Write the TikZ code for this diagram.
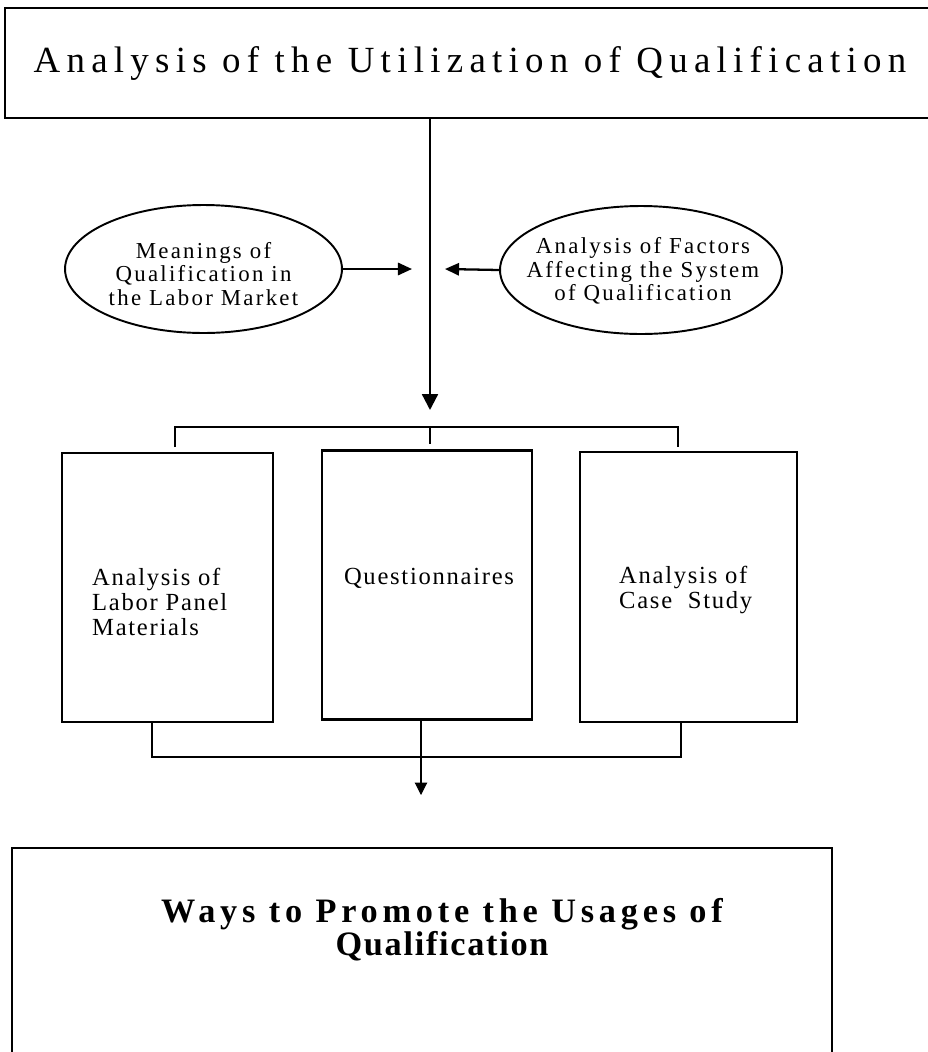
\documentclass[tikz,border=0pt]{standalone}
\usepackage{fontspec}
\setmainfont{Liberation Serif}
\newfontfamily\titlefont[LetterSpace=17]{Liberation Serif}
\newfontfamily\bubblefont[LetterSpace=10]{Liberation Serif}
\newfontfamily\panelfont[LetterSpace=7]{Liberation Serif}
\newfontfamily\resultfont[LetterSpace=14]{Liberation Serif}
\newfontfamily\resultfonttight[LetterSpace=5]{Liberation Serif}
\usetikzlibrary{shapes.geometric,arrows.meta}

\begin{document}
\begin{tikzpicture}[x=0.02cm,y=-0.02cm,
	frame/.style={draw,line width=0.8pt,minimum width=18.6cm,minimum height=2.2cm},
	bubble/.style={draw,ellipse,line width=1.1pt,minimum width=5.54cm,minimum height=2.56cm},
	bubbletext/.style={align=center,font=\bubblefont\fontsize{13}{13.3}\selectfont},
	panel/.style={draw,line width=1.3pt,minimum width=4.22cm,minimum height=5.38cm},
	paneltext/.style={align=left,font=\panelfont\fontsize{14}{14.3}\selectfont},
	trunk/.style={line width=1.3pt},
	twig/.style={line width=0.6pt},
	tip/.style={-{Triangle[length=9pt,width=9pt]}},
	sidetip/.style={-{Triangle[length=8pt,width=7pt]}},
	smalltip/.style={-{Triangle[length=7pt,width=7pt]}}]
	\clip (0,0) rectangle (928,1052);
	%\draw [help lines,step=50] (0,0) grid (928,1052);
	\node[frame] (title) at (470,63) {\titlefont\fontsize{21}{24}\selectfont Analysis of the Utilization of Qualification};
	% side inputs
	\node[bubble] (meaning) at (203.5,269) {};
	\node[bubbletext] (meaningtext) at (203.5,274) {Meanings of\\Qualification in\\the Labor Market};
	\node[bubble,minimum width=5.64cm] (factor) at (641,270) {};
	\node[bubbletext] (factortext) at (643,271) {Analysis of Factors\\Affecting the System\\of Qualification};
	\coordinate (inL) at (412,269);
	\coordinate (inR) at (445,269);
	\coordinate (hub) at (430,410);
	\coordinate (fork) at (430,427);
	\draw[trunk,tip] (title.south -| hub) -- (hub);
	\draw[trunk,sidetip] (meaning.east) -- (inL);
	\draw[trunk,sidetip] (factor.west) -- (inR);
	% three methods
	\node[panel] (labor) at (167.5,587.5) {};
	\node[panel,minimum width=4.2cm] (quest) at (427,585) {};
	\node[panel,minimum width=4.34cm,minimum height=5.4cm] (casestudy) at (688.5,587) {};
	\node[paneltext,anchor=west] (labortext) at (86,602) {Analysis of\\Labor Panel\\Materials};
	\node[paneltext] (questtext) at (429,578) {Questionnaires};
	\node[paneltext,anchor=west] (casetext) at (613,590) {Analysis of\\Case~ Study};
	\coordinate (dropL) at (175,447);
	\coordinate (dropM) at (430,444);
	\coordinate (dropR) at (678,447);
	\draw[trunk] (dropL) -- (dropL |- fork) -- (dropR |- fork) -- (dropR);
	\draw[trunk] (fork) -- (dropM);
	% gathering
	\coordinate (gatherL) at (152,757);
	\coordinate (gather) at (421,757);
	\coordinate (gatherR) at (681,757);
	\coordinate (outlet) at (421,795);
	\draw[twig] (labor.south -| gatherL) -- (gatherL) -- (gatherR) -- (casestudy.south -| gatherR);
	\draw[twig,smalltip] (quest.south -| gather) -- (outlet);
	\node[frame,minimum width=16.4cm,minimum height=5.04cm] (promote) at (422,974) {};
	\node[align=center,font=\bfseries\fontsize{19.5}{19}\selectfont] (promotetext) at (442,930) {{\resultfont\bfseries Ways to Promote the Usages of}\\{\resultfonttight\bfseries Qualification}};
\end{tikzpicture}
\end{document}
